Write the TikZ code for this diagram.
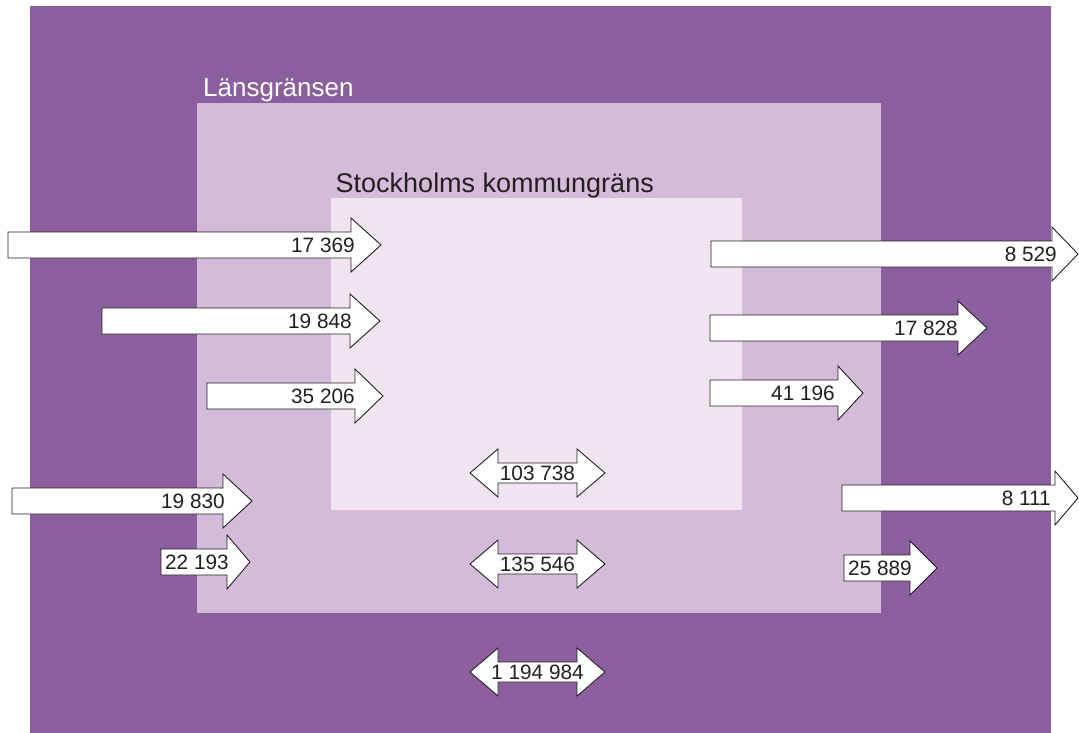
\documentclass[tikz,border=0pt]{standalone}
\usepackage{fontspec}
\setmainfont{Liberation Sans}
\definecolor{outerP}{RGB}{139,94,157}
\definecolor{midP}{RGB}{211,187,217}
\definecolor{innerP}{RGB}{240,228,241}
\definecolor{ink}{RGB}{35,31,32}
\tikzset{
  arr/.style={draw=ink, fill=white, line width=0.9pt, line join=miter},
  num/.style={inner sep=0pt, text=ink, font=\fontsize{20.8}{24}\selectfont},
  title/.style={inner sep=0pt, font=\fontsize{27}{31}\selectfont}
}
% #1 name, #2 left x, #3 head base x, #4 tip x, #5 centre y, #6 text right x, #7 label
\newcommand\RArr[7]{%
  \draw[arr] (#2,#5-13) -- (#3,#5-13) -- (#3,#5-27) -- (#4,#5) -- (#3,#5+27) -- (#3,#5+13) -- (#2,#5+13) -- cycle;
  \node[num, anchor=base east] (#1) at (#6,#5+7.5) {#7};}
% #1 name, #2 centre y, #3 label
\newcommand\DArr[3]{%
  \draw[arr] (470,#2) -- (498,#2-24) -- (498,#2-10) -- (577,#2-10) -- (577,#2-24) -- (605,#2) -- (577,#2+24) -- (577,#2+10) -- (498,#2+10) -- (498,#2+24) -- cycle;
  \node[num, anchor=base] (#1) at (537.5,#2+7.5) {#3};}
\begin{document}
\begin{tikzpicture}[x=1pt,y=-1pt]
\useasboundingbox (0,0) rectangle (1079,733);
\fill[white] (0,0) rectangle (1079,733);
\fill[outerP] (30,6) rectangle (1051,733);
\fill[midP] (197,103) rectangle (881,613);
\fill[innerP] (331,198) rectangle (742,510);
\node[title, text=white, anchor=base west, font=\fontsize{26}{30}\selectfont] (lan) at (203,96.5) {Länsgränsen};
\node[title, text=ink, anchor=base west] (sthlm) at (335.5,192.7) {Stockholms kommungräns};
\RArr{a1}{8}{351}{381}{245}{355}{17 369}
\RArr{a2}{711}{1052}{1078}{254}{1057}{8 529}
\RArr{a3}{102}{350}{380}{321}{352}{19 848}
\RArr{a4}{710}{958}{987}{328}{958}{17 828}
\RArr{a5}{207}{355}{383}{396}{355}{35 206}
\RArr{a6}{710}{838}{863}{393}{835}{41 196}
\RArr{a7}{12}{223}{252}{501}{225}{19 830}
\RArr{a8}{161}{227}{250}{562}{229}{22 193}
\RArr{a9}{842}{1055}{1078}{498}{1051}{8 111}
\RArr{a10}{844}{910}{937}{568}{912}{25 889}
\DArr{d1}{473}{103 738}
\DArr{d2}{564}{135 546}
\DArr{d3}{672}{1 194 984}
\end{tikzpicture}
\end{document}
